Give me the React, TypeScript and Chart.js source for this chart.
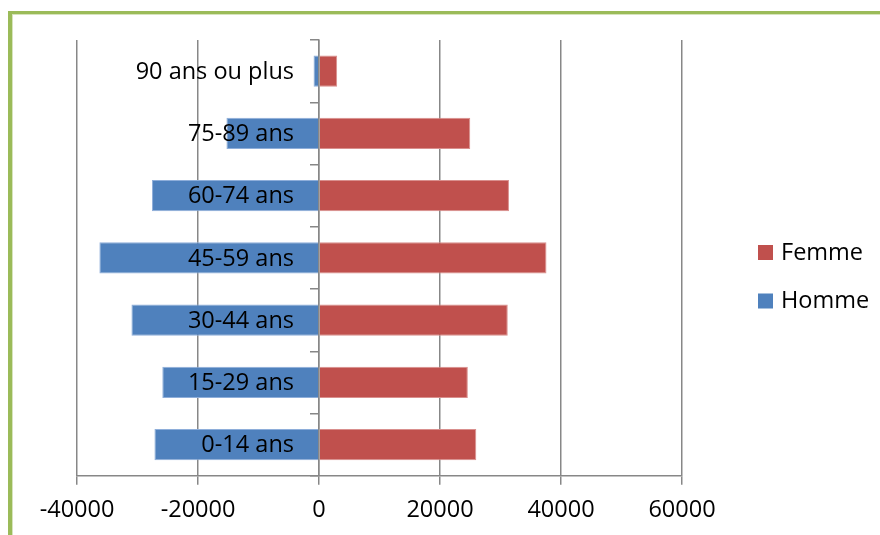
import React, { useEffect, useRef } from "react";
import { Chart, registerables } from "chart.js";

Chart.register(...registerables);

// Age groups, from youngest (bottom) to oldest (top)
const categories = [
  "0-14 ans",
  "15-29 ans",
  "30-44 ans",
  "45-59 ans",
  "60-74 ans",
  "75-89 ans",
  "90 ans ou plus",
];

// Men are plotted to the left of zero, women to the right
const hommeValues = [-27200, -25900, -31000, -36300, -27600, -15300, -900];
const femmeValues = [26000, 24600, 31200, 37600, 31400, 25000, 3000];

const xTicks = [-40000, -20000, 0, 20000, 40000, 60000];

const FONT = "'Open Sans', 'DejaVu Sans', sans-serif";
const FONT_SIZE = 23.5;
const AXIS_GRAY = "#878787";

// Draws the age-group names just left of the zero line, over the bars
const categoryLabelsPlugin = {
  id: "categoryLabels",
  afterDatasetsDraw(chart: any) {
    const { ctx, scales } = chart;
    const x0 = scales.x.getPixelForValue(0);
    ctx.save();
    ctx.font = `${FONT_SIZE}px ${FONT}`;
    ctx.fillStyle = "#000000";
    ctx.textAlign = "right";
    ctx.textBaseline = "middle";
    chart.data.labels.forEach((label: string, i: number) => {
      ctx.fillText(label, x0 - 25, scales.y.getPixelForValue(i) + 1);
    });
    ctx.restore();
  },
};

// Legend on the right, listing the series in reverse order
const sideLegendPlugin = {
  id: "sideLegend",
  afterDraw(chart: any) {
    const { ctx } = chart;
    const items = [...chart.data.datasets].reverse();
    ctx.save();
    ctx.font = `${FONT_SIZE}px ${FONT}`;
    ctx.textAlign = "left";
    ctx.textBaseline = "middle";
    items.forEach((ds: any, i: number) => {
      const cy = 252 + i * 48.5;
      ctx.fillStyle = ds.backgroundColor;
      ctx.fillRect(758, cy - 7, 15, 15);
      ctx.fillStyle = "#000000";
      ctx.fillText(ds.label, 781, cy + 1);
    });
    ctx.restore();
  },
};

export default function App() {
  const canvasRef = useRef<HTMLCanvasElement | null>(null);

  useEffect(() => {
    if (!canvasRef.current) return;
    const chart = new Chart(canvasRef.current, {
      type: "bar",
      data: {
        labels: categories,
        datasets: [
          {
            label: "Homme",
            data: hommeValues,
            backgroundColor: "#4F81BD",
            borderColor: "#8EAEDA",
            borderWidth: 1,
          },
          {
            label: "Femme",
            data: femmeValues,
            backgroundColor: "#C0504D",
            borderColor: "#D98F8D",
            borderWidth: 1,
          },
        ],
      },
      options: {
        indexAxis: "y",
        animation: false,
        responsive: false,
        maintainAspectRatio: false,
        datasets: {
          bar: {
            categoryPercentage: 0.5,
            barPercentage: 1,
          },
        },
        layout: {
          padding: { left: 77, right: 198, top: 40, bottom: 0 },
        },
        plugins: {
          legend: { display: false },
          tooltip: { enabled: false },
        },
        scales: {
          x: {
            type: "linear",
            stacked: true,
            min: -40000,
            max: 60000,
            afterBuildTicks: (scale: any) => {
              scale.ticks = xTicks.map((v) => ({ value: v }));
            },
            grid: {
              color: AXIS_GRAY,
              lineWidth: 1.5,
              tickLength: 9,
              drawTicks: true,
            },
            border: { color: AXIS_GRAY, width: 1.5 },
            ticks: {
              color: "#000000",
              font: { family: FONT, size: FONT_SIZE },
              padding: 11,
              maxRotation: 0,
              autoSkip: false,
              callback: (v: any) => String(v),
            },
          },
          y: {
            type: "category",
            stacked: true,
            reverse: true,
            position: { x: 0 },
            z: 1,
            grid: {
              drawOnChartArea: false,
              offset: true,
              color: AXIS_GRAY,
              lineWidth: 1.5,
              tickLength: 8,
            },
            border: { color: AXIS_GRAY, width: 1.5 },
            ticks: { display: false },
          },
        },
      },
      plugins: [categoryLabelsPlugin, sideLegendPlugin],
    });
    return () => chart.destroy();
  }, []);

  return (
    <div
      style={{
        position: "fixed",
        left: 0,
        top: 0,
        width: 880,
        height: 535,
        overflow: "hidden",
        background: "#ffffff",
      }}
    >
      <div
        style={{
          position: "absolute",
          left: 8,
          top: 11,
          width: 900,
          height: 600,
          borderLeft: "4px solid #9BBB59",
          borderTop: "3px solid #9BBB59",
          boxShadow: "inset 1px 1px 0 #D7E4BD",
        }}
      />
      <canvas
        ref={canvasRef}
        width={880}
        height={535}
        style={{ position: "absolute", left: 0, top: 0, width: 880, height: 535 }}
      />
    </div>
  );
}
